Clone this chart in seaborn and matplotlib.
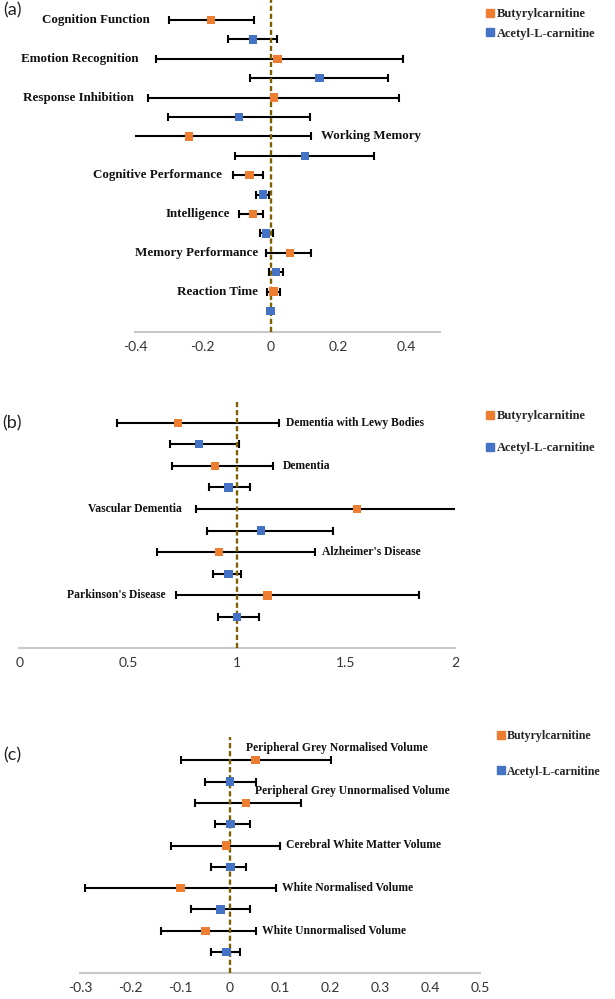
import matplotlib
matplotlib.use("Agg")
import matplotlib.pyplot as plt
from matplotlib.lines import Line2D
import seaborn as sns
import pandas as pd
import numpy as np

sns.set_style("white")
plt.rcParams['font.family'] = ['Lato', 'DejaVu Sans']

# ---- data (estimate, lower, upper) ----
compounds = ['Butyrylcarnitine', 'Acetyl-L-carnitine']
colors = {'Butyrylcarnitine': '#ED7D31', 'Acetyl-L-carnitine': '#4472C4'}

outcomes_a = ['Cognition Function', 'Emotion Recognition', 'Response Inhibition', 'Working Memory',
              'Cognitive Performance', 'Intelligence', 'Memory Performance', 'Reaction Time']
butyryl_a = [-0.176, 0.020, 0.010, -0.240, -0.062, -0.052, 0.058, 0.009]
butyryl_a_lo = [-0.299, -0.339, -0.362, -0.41, -0.112, -0.092, -0.012, -0.011]
butyryl_a_hi = [-0.050, 0.390, 0.378, 0.118, -0.021, -0.021, 0.118, 0.029]
acetyl_a = [-0.051, 0.144, -0.094, 0.101, -0.023, -0.013, 0.016, 0.000]
acetyl_a_lo = [-0.125, -0.060, -0.304, -0.105, -0.044, -0.030, -0.005, -0.004]
acetyl_a_hi = [0.018, 0.346, 0.116, 0.304, -0.005, 0.008, 0.037, 0.004]

outcomes_b = ['Dementia with Lewy Bodies', 'Dementia', 'Vascular Dementia',
              "Alzheimer's Disease", "Parkinson's Disease"]
butyryl_b = [0.730, 0.898, 1.550, 0.918, 1.139]
butyryl_b_lo = [0.450, 0.699, 0.810, 0.631, 0.718]
butyryl_b_hi = [1.191, 1.163, 2.15, 1.359, 1.835]
acetyl_b = [0.826, 0.960, 1.108, 0.960, 0.999]
acetyl_b_lo = [0.690, 0.871, 0.862, 0.891, 0.912]
acetyl_b_hi = [1.010, 1.059, 1.442, 1.018, 1.100]

outcomes_c = ['Peripheral Grey Normalised Volume', 'Peripheral Grey Unnormalised Volume',
              'Cerebral White Matter Volume', 'White Normalised Volume', 'White Unnormalised Volume']
butyryl_c = [0.051, 0.032, -0.008, -0.099, -0.049]
butyryl_c_lo = [-0.099, -0.071, -0.119, -0.290, -0.138]
butyryl_c_hi = [0.201, 0.142, 0.099, 0.091, 0.051]
acetyl_c = [0.000, 0.001, 0.001, -0.019, -0.007]
acetyl_c_lo = [-0.051, -0.030, -0.039, -0.079, -0.039]
acetyl_c_hi = [0.051, 0.039, 0.032, 0.039, 0.019]

# label placement (x in data units, alignment, row shift)
lab_a = [(-0.357, 'right', 0), (-0.389, 'right', 0), (-0.403, 'right', 0), (0.150, 'left', 0),
         (-0.142, 'right', 0), (-0.120, 'right', 0), (-0.036, 'right', 0), (-0.036, 'right', 0)]
lab_b = [(1.224, 'left', 0), (1.212, 'left', 0), (0.748, 'right', 0), (1.388, 'left', 0), (0.672, 'right', 0)]
lab_c = [(0.031, 'left', -0.6), (0.050, 'left', -0.56), (0.113, 'left', 0), (0.105, 'left', 0), (0.065, 'left', 0)]

W, H = 615, 999
fig = plt.figure(figsize=(W / 100, H / 100), dpi=100)


def make_df(outcomes, b, blo, bhi, a, alo, ahi):
    rows = []
    for k, name in enumerate(outcomes):
        rows.append(dict(outcome=name, compound=compounds[0], row=2 * k, est=b[k], lo=blo[k], hi=bhi[k]))
        rows.append(dict(outcome=name, compound=compounds[1], row=2 * k + 1, est=a[k], lo=alo[k], hi=ahi[k]))
    return pd.DataFrame(rows)


def panel(df, labels, px_box, xlim, ylim, ticks, ref, fsize, tag, tag_y, leg_pos, leg_space, leg_size):
    l, r, t, b = px_box
    ax = fig.add_axes([l / W, 1 - b / H, (r - l) / W, (b - t) / H])
    ax.errorbar(df['est'], df['row'], xerr=[df['est'] - df['lo'], df['hi'] - df['est']],
                fmt='none', ecolor='black', elinewidth=1.5, capsize=2.8, capthick=1.5, zorder=2)
    ax.axvline(ref, color='#7F6000', lw=1.7, ls=(0, (2.2, 1.2)), zorder=3)
    sns.scatterplot(data=df, x='est', y='row', hue='compound', palette=colors, marker='s',
                    s=36, linewidth=0, ax=ax, legend=False, zorder=4)
    for k, (name, (lx, ha, dy)) in enumerate(zip(df['outcome'].unique(), labels)):
        ax.text(lx, 2 * k + dy, name, ha=ha, va='center', fontsize=fsize, fontweight='bold',
                family='Liberation Serif', color='#111111')
    ax.set_xlim(*xlim)
    ax.set_ylim(*ylim)
    ax.set_xticks(ticks)
    ax.set_xticklabels([('%g' % v) for v in ticks])
    ax.set_yticks([])
    ax.set_xlabel('')
    ax.set_ylabel('')
    for s in ['top', 'left', 'right']:
        ax.spines[s].set_visible(False)
    ax.spines['bottom'].set_color('#C8C8C8')
    ax.spines['bottom'].set_linewidth(1.5)
    ax.tick_params(axis='x', direction='out', length=3, width=1.2, color='#C8C8C8',
                   labelsize=10, labelcolor='#333333', pad=3.5)
    fig.text(12 / W, 1 - tag_y / H, tag, ha='center', va='center', fontsize=13, color='#222222')
    handles = [Line2D([], [], marker='s', ls='none', color=colors[c], markersize=5.8) for c in compounds]
    ax.legend(handles, compounds, loc='center left', frameon=False,
              bbox_to_anchor=(leg_pos[0] / W, 1 - leg_pos[1] / H), bbox_transform=fig.transFigure,
              handlelength=0.6, handletextpad=0.25, labelspacing=leg_space, borderpad=0,
              prop={'family': 'Liberation Serif', 'weight': 'bold', 'size': leg_size})
    return ax


def ylims(top_px, bot_px, row0, step):
    return ((bot_px - row0) / step, (top_px - row0) / step)


df_a = make_df(outcomes_a, butyryl_a, butyryl_a_lo, butyryl_a_hi, acetyl_a, acetyl_a_lo, acetyl_a_hi)
df_b = make_df(outcomes_b, butyryl_b, butyryl_b_lo, butyryl_b_hi, acetyl_b, acetyl_b_lo, acetyl_b_hi)
df_c = make_df(outcomes_c, butyryl_c, butyryl_c_lo, butyryl_c_hi, acetyl_c, acetyl_c_lo, acetyl_c_hi)

panel(df_a, lab_a, (135, 440, 0, 332), (-0.4, 0.5), ylims(0, 332, 20, 19.4),
      [-0.4, -0.2, 0, 0.2, 0.4], 0, 9.4, '(a)', 10, (480, 24), 0.6, 9)
panel(df_b, lab_b, (19.3, 455, 400.7, 648.3), (0, 2), ylims(400.7, 648.3, 422.7, 21.59),
      [0, 0.5, 1, 1.5, 2], 1, 8.4, '(b)', 423, (480, 432), 1.6, 9)
panel(df_c, lab_c, (80, 480, 736.7, 972.7), (-0.3, 0.5), ylims(736.7, 972.7, 760.3, 21.3),
      [-0.3, -0.2, -0.1, 0, 0.1, 0.2, 0.3, 0.4, 0.5], 0, 8.4, '(c)', 755, (491, 754), 1.95, 8.6)

fig.savefig('out.png', dpi=100)
